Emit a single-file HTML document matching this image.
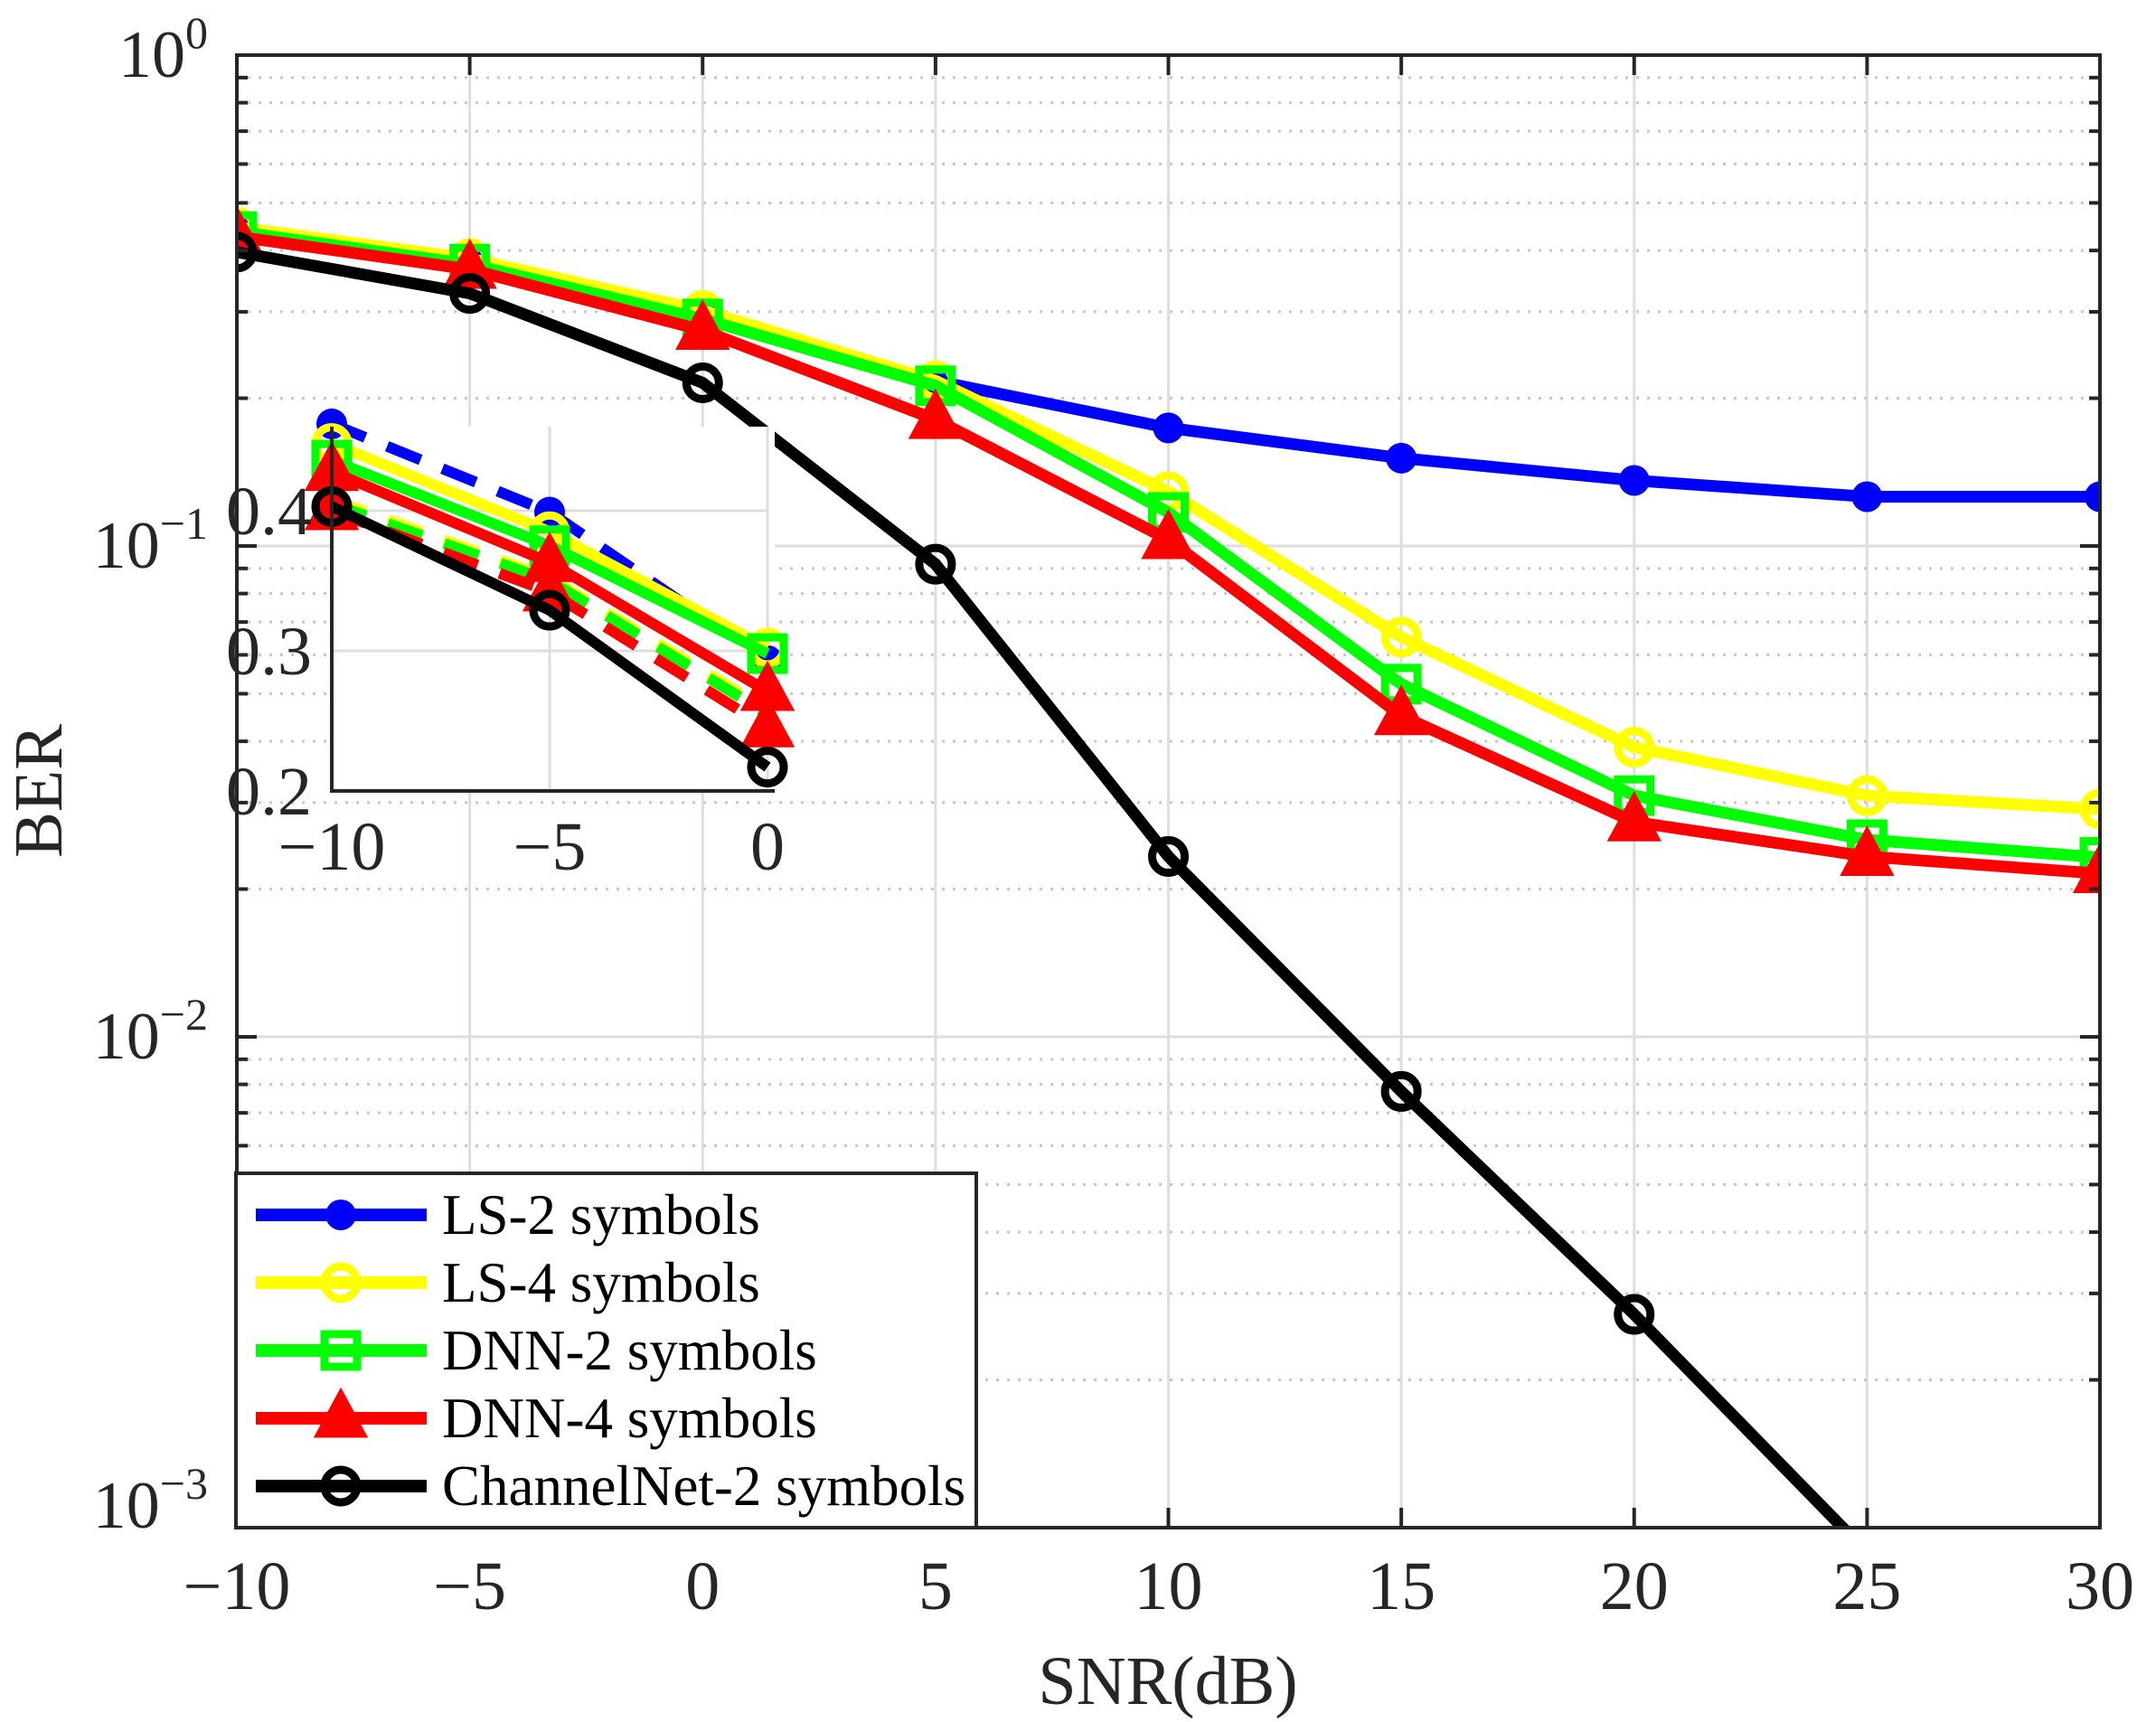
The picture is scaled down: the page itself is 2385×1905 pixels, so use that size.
<!DOCTYPE html>
<html><head><meta charset="utf-8"><style>
html,body{margin:0;padding:0;background:#fff;}
svg{display:block;font-family:"Liberation Serif","DejaVu Serif",serif;}
</style></head><body>
<svg id="chart" width="2385" height="1905" viewBox="0 0 2385 1905" xmlns="http://www.w3.org/2000/svg">
<rect x="0" y="0" width="2385" height="1905" fill="#fff"/>
<g id="grid"></g>
<g id="series"></g>
<g id="inset"></g>
<g id="axes"></g>
<g id="legend"></g>
</svg>
<script>
const snr = [-10,-5,0,5,10,15,20,25,30];
const ls2 = [0.446,0.38,0.297,0.217,0.174,0.151,0.136,0.126,0.126];
const ls4 = [0.446,0.385,0.302,0.217,0.129,0.0652,0.0389,0.031,0.0291];
const dnn2 = [0.437,0.375,0.29,0.212,0.117,0.0523,0.031,0.0252,0.0232];
const dnn4 = [0.427,0.366,0.275,0.181,0.103,0.0451,0.0274,0.0233,0.0215];
const cnet = [0.397,0.327,0.215,0.0918,0.0233,0.00774,0.00272,0.00089,0.0003];
const xTicks = [-10,-5,0,5,10,15,20,25,30];
const yExps = [0,-1,-2,-3];
const insetX = [-10,-5,0];
const insetLs2 = [0.462,0.399,0.293];
const insetLs4 = [0.448,0.385,0.302];
const insetDnn2 = [0.436,0.375,0.298];
const insetDnn4 = [0.428,0.363,0.271];
const insetCnet = [0.403,0.329,0.217];
const insetDashLs4 = [0.408,0.352,0.258];
const insetDashDnn2 = [0.405,0.350,0.255];
const insetDashDnn4 = [0.400,0.342,0.245];
const insetYTicks = [0.2,0.3,0.4];
const legendLabels = ["LS-2 symbols","LS-4 symbols","DNN-2 symbols","DNN-4 symbols","ChannelNet-2 symbols"];

const NS="http://www.w3.org/2000/svg";
const L=262,R=2323,T=61,B=1690;
const xs=v=>L+(v+10)/40*(R-L);
const ys=v=>T+(-Math.log10(v))/3*(B-T);
const IL=367,IR=849,IT=472,IB=875;
const ixs=v=>IL+(v+10)/10*(IR-IL);
const iys=v=>IB-(v-0.2)*((IB-IT)/0.26);
function mk(tag,attrs,parent){const e=document.createElementNS(NS,tag);for(const k in attrs)e.setAttribute(k,attrs[k]);parent.appendChild(e);return e;}
const grid=document.getElementById('grid'),axes=document.getElementById('axes'),ser=document.getElementById('series'),ins=document.getElementById('inset'),leg=document.getElementById('legend');

xTicks.forEach(t=>{const x=xs(t);
 const g=mk('line',{x1:x,x2:x,y1:T,y2:B,stroke:'#dedede','stroke-width':3},grid);
 
 [[B,B-22],[T,T+22]].forEach(p=>{const tk=mk('line',{x1:x,x2:x,y1:p[0],y2:p[1],stroke:'#262626','stroke-width':4},axes);
 });
 const lb=mk('text',{x:x,y:1780,'font-size':76,'text-anchor':'middle',fill:'#262626'},axes);
 lb.textContent=(t<0?'\u2212':'')+Math.abs(t);
 
});
for(let d=0;d<3;d++){for(let m=2;m<=9;m++){const v=m*Math.pow(10,-(d+1));const y=ys(v);
 const g=mk('line',{x1:L,x2:R,y1:y,y2:y,stroke:'#c8c8c8','stroke-width':3,'stroke-dasharray':'3 9'},grid);
 
 [[L,L+12],[R,R-12]].forEach(p=>{const tk=mk('line',{x1:p[0],x2:p[1],y1:y,y2:y,stroke:'#262626','stroke-width':4},axes);
 });
}}
yExps.forEach(e=>{const y=ys(Math.pow(10,e));
 const g=mk('line',{x1:L,x2:R,y1:y,y2:y,stroke:'#dedede','stroke-width':3},grid);
 
 [[L,L+22],[R,R-22]].forEach(p=>{const tk=mk('line',{x1:p[0],x2:p[1],y1:y,y2:y,stroke:'#262626','stroke-width':4},axes);
 });
 const tx=mk('text',{x:230,y:y+(e==-3?0:24),'font-size':74,'text-anchor':'end',fill:'#262626'},axes);
 
 const b=document.createElementNS(NS,'tspan');b.textContent='10';tx.appendChild(b);
 const s=document.createElementNS(NS,'tspan');s.setAttribute('font-size','50');s.setAttribute('dy','-32');s.textContent=(e<0?'\u2212':'')+Math.abs(e);tx.appendChild(s);
});
const box=mk('rect',{x:L,y:T,width:R-L,height:B-T,fill:'none',stroke:'#262626','stroke-width':4},axes);

const xl=mk('text',{x:1292,y:1885,'font-size':76,'text-anchor':'middle',fill:'#262626'},axes);xl.textContent='SNR(dB)';

const yl=mk('text',{x:0,y:0,'font-size':76,'text-anchor':'middle',fill:'#262626',transform:'translate(68,875) rotate(-90)'},axes);yl.textContent='BER';


function marker(type,x,y,color,parent,size){size=size||21;let e;
 if(type==='dot')e=mk('circle',{cx:x,cy:y,r:size-4,fill:color},parent);
 else if(type==='circle')e=mk('circle',{cx:x,cy:y,r:size-3,fill:'none',stroke:color,'stroke-width':9},parent);
 else if(type==='square')e=mk('rect',{x:x-size+3,y:y-size+3,width:2*size-6,height:2*size-6,fill:'none',stroke:color,'stroke-width':9},parent);
 else e=mk('polygon',{points:`${x},${y-size-8} ${x-size-5},${y+size-2} ${x+size+5},${y+size-2}`,fill:color,stroke:color,'stroke-width':5},parent);
 return e;}
const clip=mk('clipPath',{id:'plotclip'},document.getElementById('chart'));
mk('rect',{x:L,y:T,width:R-L,height:B-T},clip);
const mainSeries=[[ls2,'#0000ff','dot','ls2'],[ls4,'#ffff00','circle','ls4'],[dnn2,'#00ff00','square','dnn2'],[dnn4,'#ff0000','triangle','dnn4'],[cnet,'#000000','circle','channelnet']];
mainSeries.forEach(s=>{const g=mk('g',{'clip-path':'url(#plotclip)'},ser);
 
 const pts=snr.map((x,i)=>xs(x)+','+ys(s[0][i])).join(' ');
 const pl=mk('polyline',{points:pts,fill:'none',stroke:s[1],'stroke-width':13,'stroke-linejoin':'round'},g);
 
 snr.forEach((x,i)=>{const y=ys(s[0][i]);if(y>B)return;const m=marker(s[2],xs(x),y,s[1],g);
  });
});

const ibg=mk('rect',{x:IL,y:IT,width:IR-IL+8,height:IB-IT,fill:'#fff'},ins);

[0.3,0.4].forEach(v=>{const y=iys(v);const g=mk('line',{x1:IL,x2:IR,y1:y,y2:y,stroke:'#dedede','stroke-width':3},ins);
 });
[-5,0].forEach(v=>{const x=ixs(v);const g=mk('line',{x1:x,x2:x,y1:IT,y2:IB,stroke:'#dedede','stroke-width':3},ins);
 });
const insetSeries=[[insetDashLs4,'#ffff00',null,'ls4-dashed',true],[insetDashDnn2,'#00ff00',null,'dnn2-dashed',true],[insetDashDnn4,'#ff0000','triangle','dnn4-dashed',true],[insetLs2,'#0000ff','dot','ls2',true],[insetLs4,'#ffff00','circle','ls4',false],[insetDnn2,'#00ff00','square','dnn2',false],[insetDnn4,'#ff0000','triangle','dnn4',false],[insetCnet,'#000000','circle','channelnet',false]];
insetSeries.forEach(s=>{const g=mk('g',{},ins);
 
 const pts=insetX.map((x,i)=>ixs(x)+','+iys(s[0][i])).join(' ');
 const a={points:pts,fill:'none',stroke:s[1],'stroke-width':12};if(s[4])a['stroke-dasharray']='40 26';
 const pl=mk('polyline',a,g);
 if(s[2])insetX.forEach((x,i)=>{const m=marker(s[2],ixs(x),iys(s[0][i]),s[1],g);
  });
});
const iax=mk('polyline',{points:`${IL},${IT} ${IL},${IB} ${IR+8},${IB}`,fill:'none',stroke:'#262626','stroke-width':4},ins);

insetYTicks.forEach(v=>{const t=mk('text',{x:345,y:iys(v)+26,'font-size':76,'text-anchor':'end',fill:'#262626'},ins);t.textContent=v.toFixed(1);
 });
insetX.forEach(v=>{const t=mk('text',{x:ixs(v),y:962,'font-size':76,'text-anchor':'middle',fill:'#262626'},ins);t.textContent=(v<0?'\u2212':'')+Math.abs(v);
 });

const lb=mk('rect',{x:261,y:1298,width:819,height:392,fill:'#fff',stroke:'#262626','stroke-width':4},leg);

mainSeries.forEach((s,i)=>{const y=1344+i*75;const g=mk('g',{},leg);
 
 mk('line',{x1:283,x2:472,y1:y,y2:y,stroke:s[1],'stroke-width':14},g);
 marker(s[2],377,y,s[1],g);
 const t=mk('text',{x:489,y:y+21,'font-size':63,fill:'#000'},g);t.textContent=legendLabels[i];
 
});
</script>
</body></html>
